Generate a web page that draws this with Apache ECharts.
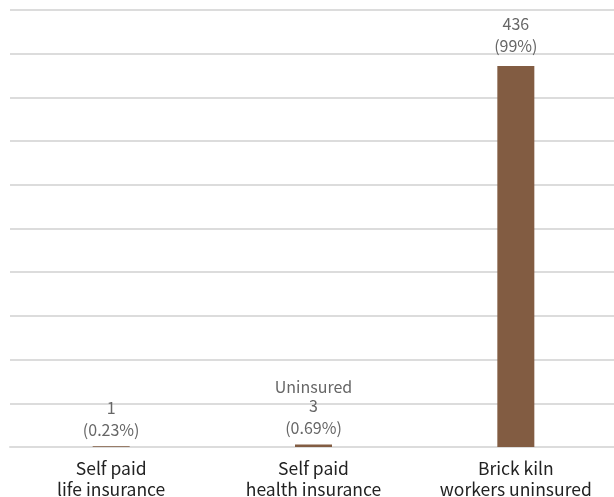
<!DOCTYPE html>
<html>
<head>
<meta charset="utf-8">
<script src="https://cdn.jsdelivr.net/npm/echarts@6/dist/echarts.min.js"></script>
<style>
  html, body { margin: 0; padding: 0; background: #fff; }
  #chart { width: 614px; height: 497px; }
</style>
</head>
<body>
<div id="chart"></div>
<script>
// Insurance coverage among brick kiln workers
const categories = ['Self paid\nlife insurance', 'Self paid\nhealth insurance', 'Brick kiln\nworkers uninsured'];
const counts = [1, 3, 436];
const shares = ['0.23%', '0.69%', '99%'];
const notes = ['', 'Uninsured', ''];

const FONT = '"Noto Sans CJK SC", "Noto Sans", sans-serif';

// Tall bar gets a little more room above its label
const barData = counts.map(function (v) {
  return { value: v, label: { distance: v > 100 ? 9 : 5 } };
});

const chart = echarts.init(document.getElementById('chart'));
chart.setOption({
  animation: false,
  grid: { left: 10, right: -3, top: 10, bottom: 50, outerBoundsMode: 'none', containLabel: false },
  xAxis: {
    type: 'category',
    data: categories,
    axisTick: { show: false },
    axisLine: { lineStyle: { color: '#dcdcdc', width: 2 } },
    axisLabel: {
      color: '#222',
      fontFamily: FONT,
      fontSize: 17.5,
      lineHeight: 21,
      margin: 11,
      interval: 0
    }
  },
  yAxis: {
    type: 'value',
    min: 0,
    max: 500,
    interval: 50,
    axisLabel: { show: false },
    axisLine: { show: false },
    axisTick: { show: false },
    splitLine: { lineStyle: { color: '#dcdcdc', width: 2 } }
  },
  series: [{
    type: 'bar',
    data: barData,
    barWidth: 37,
    itemStyle: { color: '#825c42' },
    label: {
      show: true,
      position: 'top',
      distance: 5,
      color: '#666',
      fontFamily: FONT,
      fontSize: 16,
      lineHeight: 22,
      formatter: function (p) {
        const i = p.dataIndex;
        const base = counts[i] + '\n(' + shares[i] + ')';
        return notes[i] ? '{n|' + notes[i] + '}\n' + base : base;
      },
      rich: {
        n: { color: '#666', fontFamily: FONT, fontSize: 16, lineHeight: 17 }
      }
    }
  }]
});
</script>
</body>
</html>
